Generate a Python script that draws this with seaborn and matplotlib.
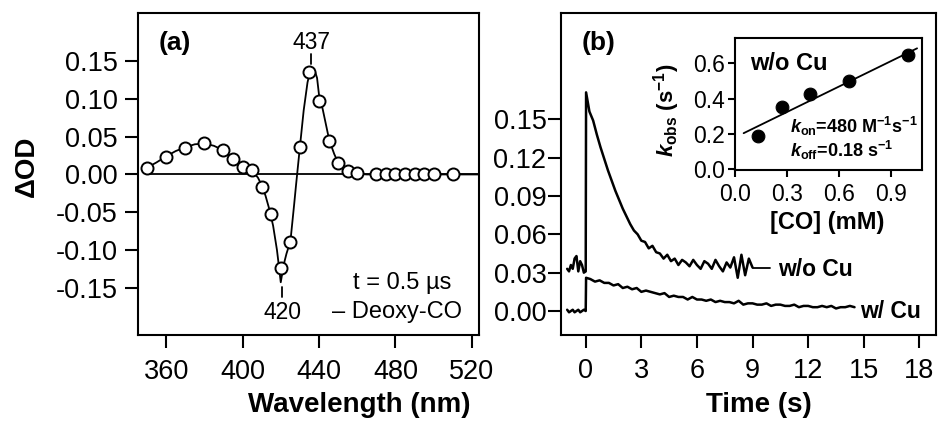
import numpy as np
import pandas as pd
import matplotlib
matplotlib.use("Agg")
import matplotlib.pyplot as plt
import seaborn as sns

# ---- (a) difference spectrum, t = 0.5 us ----
wl_nm = [350, 360, 370, 380, 390, 395, 400, 405, 410, 415, 420, 425, 430, 435,
         440, 445, 450, 455, 460, 470, 475, 480, 485, 490, 495, 500, 510]
dod = [0.0085, 0.023, 0.035, 0.0415, 0.033, 0.020, 0.010, 0.006, -0.016, -0.053,
       -0.124, -0.090, 0.036, 0.1365, 0.097, 0.045, 0.0155, 0.004, 0.002, 0.001,
       0.001, 0.001, 0.001, 0.001, 0.001, 0.001, 0.001]

fit_nm = [350, 355, 360, 365, 370, 375, 380, 385, 390, 395, 400, 405, 408, 410,
          412, 414, 416, 418, 419, 420, 421, 422, 423, 424, 425, 426, 427, 428,
          429, 430, 432, 434, 435, 436, 437, 438, 439, 440, 442, 444, 445, 446,
          448, 450, 453, 456, 460, 465, 470, 524]
fit_od = [0.009, 0.016, 0.024, 0.031, 0.036, 0.040, 0.041, 0.038, 0.032, 0.021,
          0.011, 0.004, -0.004, -0.014, -0.028, -0.046, -0.068, -0.100, -0.121,
          -0.143, -0.128, -0.115, -0.105, -0.097, -0.090, -0.065, -0.040, -0.014,
          0.011, 0.036, 0.085, 0.122, 0.133, 0.138, 0.139, 0.136, 0.128, 0.106,
          0.086, 0.062, 0.050, 0.041, 0.027, 0.016, 0.008, 0.004, 0.001, 0.0,
          0.0, 0.0]

# ---- (b) kinetic traces ----
pre_t = [-1.0, -0.9, -0.8, -0.7, -0.6, -0.5, -0.4, -0.3, -0.2, -0.1, 0.0]
wo_cu_pre = [0.033, 0.031, 0.036, 0.033, 0.041, 0.043, 0.031, 0.039, 0.036, 0.030, 0.031]
w_cu_pre = [0.001, -0.001, 0.000, 0.001, -0.001, 0.000, 0.001, -0.001, 0.000, 0.001, 0.000]

# w/o Cu after the flash: t = 0.02, then every 0.2 s to 9.0 s
wo_cu_post = [0.171, 0.156, 0.149, 0.138, 0.128, 0.119, 0.110, 0.102, 0.094, 0.087,
              0.080, 0.074, 0.068, 0.063, 0.060, 0.055, 0.054, 0.049, 0.051, 0.046,
              0.045, 0.041, 0.044, 0.039, 0.041, 0.036, 0.040, 0.038, 0.035, 0.040,
              0.036, 0.033, 0.039, 0.037, 0.033, 0.040, 0.035, 0.031, 0.038, 0.034,
              0.042, 0.026, 0.044, 0.028, 0.041, 0.034]
# w/ Cu after the flash: t = 0.02, then every 0.25 s to 14.5 s
w_cu_post = [0.026, 0.025, 0.023, 0.024, 0.022, 0.022, 0.020, 0.021, 0.018, 0.019,
             0.017, 0.018, 0.015, 0.016, 0.015, 0.014, 0.013, 0.014, 0.011, 0.012,
             0.011, 0.011, 0.009, 0.011, 0.009, 0.009, 0.008, 0.009, 0.007, 0.008,
             0.007, 0.007, 0.006, 0.008, 0.005, 0.006, 0.006, 0.005, 0.005, 0.006,
             0.004, 0.005, 0.005, 0.004, 0.004, 0.005, 0.003, 0.004, 0.004, 0.003,
             0.003, 0.004, 0.003, 0.004, 0.002, 0.003, 0.003, 0.004, 0.003]
wo_fit_t = [9.0, 9.95]
wo_fit_v = [0.034, 0.034]

# ---- inset: kobs vs [CO] ----
co_mM = [0.13, 0.27, 0.43, 0.66, 1.0]
kobs = [0.19, 0.355, 0.425, 0.50, 0.65]
kfit_co = [0.05, 1.05]
kfit_k = [0.205, 0.685]

sns.set_theme(style="ticks")
plt.rcParams["font.family"] = ["Liberation Sans", "DejaVu Sans"]
plt.rcParams["axes.unicode_minus"] = False
plt.rcParams["mathtext.fontset"] = "custom"
plt.rcParams["mathtext.rm"] = "Liberation Sans:bold"
plt.rcParams["mathtext.bf"] = "Liberation Sans:bold"
plt.rcParams["mathtext.it"] = "Liberation Sans:bold:italic"
plt.rcParams["axes.linewidth"] = 1.5
plt.rcParams["axes.edgecolor"] = "black"
plt.rcParams["text.color"] = "black"
plt.rcParams["axes.labelcolor"] = "black"
for k in ["xtick", "ytick"]:
    plt.rcParams[f"{k}.major.width"] = 1.5
    plt.rcParams[f"{k}.color"] = "black"
    plt.rcParams[f"{k}.labelcolor"] = "black"

fig = plt.figure(figsize=(9.39, 4.22), dpi=100)
ax_a = fig.add_axes([0.147, 0.206, 0.363, 0.763])
ax_b = fig.add_axes([0.5975, 0.206, 0.399, 0.763])
ax_in = fig.add_axes([0.7827, 0.5964, 0.1995, 0.3142])

# panel (a)
spec = pd.DataFrame({"nm": wl_nm, "dod": dod})
fit = pd.DataFrame({"nm": fit_nm, "dod": fit_od})
ax_a.hlines(0, wl_nm[0], 524, color="black", lw=1.3, zorder=1)
sns.lineplot(data=fit, x="nm", y="dod", ax=ax_a, color="black", lw=1.3,
             estimator=None, sort=False, zorder=2)
sns.scatterplot(data=spec, x="nm", y="dod", ax=ax_a, s=75, facecolor="white",
                edgecolor="black", linewidth=1.4, zorder=3)
ax_a.set_xlim(345.3, 523.7)
ax_a.set_ylim(-0.213, 0.214)
ax_a.set_xticks([360, 400, 440, 480, 520])
ax_a.set_yticks([-0.15, -0.10, -0.05, 0.0, 0.05, 0.10, 0.15])
ax_a.set_yticklabels(["-0.15", "-0.10", "-0.05", "0.00", "0.05", "0.10", "0.15"])
ax_a.tick_params(axis="both", labelsize=19.5, length=9.5, direction="out")
ax_a.tick_params(axis="y", pad=5)
ax_a.tick_params(axis="x", pad=8)
ax_a.set_xlabel("Wavelength (nm)", fontsize=20, fontweight="bold")
ax_a.set_ylabel("ΔOD", fontsize=20, fontweight="bold")
ax_a.xaxis.set_label_coords(0.648, -0.217)
ax_a.xaxis.label.set_va("center")
ax_a.yaxis.set_label_coords(-0.325, 0.525)
ax_a.yaxis.label.set_va("center")

peak_nm = [436, 420.8]
peak_tick = [(0.1464, 0.1597), (-0.1487, -0.162)]
peak_text_y = [0.1756, -0.183]
peak_text = ["437", "420"]
for x, (y0, y1), ty, s in zip(peak_nm, peak_tick, peak_text_y, peak_text):
    ax_a.plot([x, x], [y0, y1], color="black", lw=1.3)
    ax_a.text(x, ty, s, ha="center", va="center", fontsize=16.5)
ax_a.text(0.108, 0.907, "(a)", transform=ax_a.transAxes, ha="center",
          va="center", fontsize=19, fontweight="bold")
ax_a.text(0.775, 0.161, "t = 0.5 µs", transform=ax_a.transAxes, ha="center",
          va="center", fontsize=17)
ax_a.text(0.761, 0.0714, "– Deoxy-CO", transform=ax_a.transAxes, ha="center",
          va="center", fontsize=17)

# panel (b)
post_wo_t = [0.02] + [round(0.2 * i, 2) for i in range(1, len(wo_cu_post))]
post_w_t = [0.02] + [round(0.25 * i, 2) for i in range(1, len(w_cu_post))]
trace_wo = pd.DataFrame({"t": pre_t + post_wo_t, "v": wo_cu_pre + wo_cu_post})
trace_w = pd.DataFrame({"t": pre_t + post_w_t, "v": w_cu_pre + w_cu_post})
for tr in [trace_wo, trace_w]:
    sns.lineplot(data=tr, x="t", y="v", ax=ax_b, color="black", lw=1.8,
                 estimator=None, sort=False)
ax_b.plot(wo_fit_t, wo_fit_v, color="black", lw=1.3)
ax_b.set_xlim(-1.33, 18.88)
ax_b.set_ylim(-0.0188, 0.233)
ax_b.set_xticks([0, 3, 6, 9, 12, 15, 18])
ax_b.set_yticks([0.0, 0.03, 0.06, 0.09, 0.12, 0.15])
ax_b.set_yticklabels(["0.00", "0.03", "0.06", "0.09", "0.12", "0.15"])
ax_b.tick_params(axis="both", labelsize=19.5, length=9.5, direction="out")
ax_b.tick_params(axis="y", pad=1)
ax_b.tick_params(axis="x", pad=7)
ax_b.set_xlabel("Time (s)", fontsize=20, fontweight="bold")
ax_b.set_ylabel("")
ax_b.xaxis.set_label_coords(0.528, -0.217)
ax_b.xaxis.label.set_va("center")
ax_b.text(10.38, 0.0327, "w/o Cu", ha="left", va="center", fontsize=16.5,
          fontweight="bold")
ax_b.text(14.78, 0.0, "w/ Cu", ha="left", va="center", fontsize=16.5,
          fontweight="bold")
ax_b.text(0.099, 0.907, "(b)", transform=ax_b.transAxes, ha="center",
          va="center", fontsize=19, fontweight="bold")

# inset
ax_in.set_facecolor("white")
kdf = pd.DataFrame({"co": co_mM, "k": kobs})
sns.lineplot(x=kfit_co, y=kfit_k, ax=ax_in, color="black", lw=1.3,
             estimator=None)
sns.scatterplot(data=kdf, x="co", y="k", ax=ax_in, s=85, color="black",
                edgecolor="black", zorder=3)
ax_in.set_xlim(0, 1.08)
ax_in.set_ylim(-0.005, 0.745)
ax_in.set_xticks([0.0, 0.3, 0.6, 0.9])
ax_in.set_yticks([0.0, 0.2, 0.4, 0.6])
ax_in.tick_params(axis="both", labelsize=16.5, length=5, direction="out")
ax_in.tick_params(axis="y", pad=2)
ax_in.tick_params(axis="x", pad=4)
ax_in.set_xlabel("[CO] (mM)", fontsize=17, fontweight="bold")
ax_in.set_ylabel(r"$k_{\rm obs}$ (s$^{-1}$)", fontsize=16, fontweight="bold")
ax_in.xaxis.set_label_coords(0.49, -0.397)
ax_in.xaxis.label.set_va("center")
ax_in.yaxis.set_label_coords(-0.363, 0.455)
ax_in.yaxis.label.set_va("center")
ax_in.text(0.285, 0.809, "w/o Cu", transform=ax_in.transAxes, ha="center",
           va="center", fontsize=17, fontweight="bold")
ax_in.text(0.294, 0.329, r"$k_{\rm on}$=480 M$^{-1}$s$^{-1}$",
           transform=ax_in.transAxes, ha="left", va="center", fontsize=13,
           fontweight="bold")
ax_in.text(0.294, 0.153, r"$k_{\rm off}$=0.18 s$^{-1}$",
           transform=ax_in.transAxes, ha="left", va="center", fontsize=13,
           fontweight="bold")

fig.savefig("out.png", dpi=100)
